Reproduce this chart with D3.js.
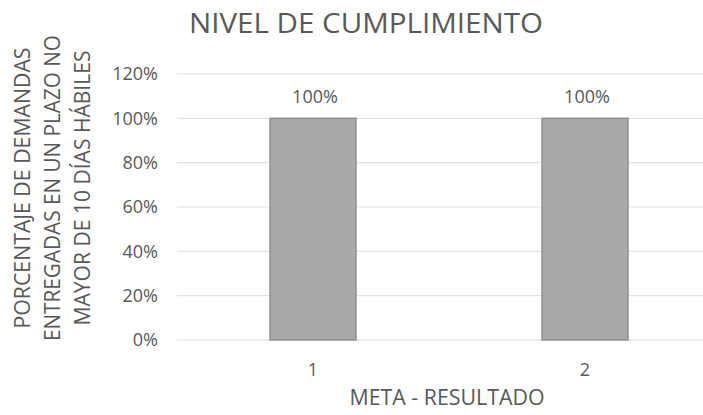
<!DOCTYPE html>
<html>
<head>
<meta charset="utf-8">
<script src="https://cdn.jsdelivr.net/npm/d3@7"></script>
<style>
    body { margin: 0; background: #fff; }
    .text { font-family: 'Open Sans', sans-serif; fill: #595959; }
</style>
</head>
<body>
<div id="chart"></div>
<script>
'use strict';

// Data
const categories = ['1', '2'];
const values = [1.0, 1.0];
const yTicks = [0, 0.2, 0.4, 0.6, 0.8, 1.0, 1.2];
const chartTitle = 'NIVEL DE CUMPLIMIENTO';
const xTitle = 'META - RESULTADO';
const yTitleLines = ['PORCENTAJE DE DEMANDAS', 'ENTREGADAS EN UN PLAZO NO', 'MAYOR DE 10 DÍAS HÁBILES'];

/*
Bars
 */
class Bars {

    // Configs
    svgW = 703;
    svgH = 415;
    plotL = 177;
    plotR = 721;
    plotTop = 74;
    plotBottom = 340;

    // Tools
    xScale = d3.scaleBand()
        .range([this.plotL, this.plotR])
        .paddingInner(0.684)
        .paddingOuter(0.342);
    yScale = d3.scaleLinear()
        .range([this.plotBottom, this.plotTop]);
    pct = d3.format('.0%');

    constructor(_target) {
        this.target = _target;
        this.init();
    }

    init() {
        const vis = this;
        vis.svg = d3.select(`#${vis.target}`)
            .append('svg')
            .attr('width', vis.svgW)
            .attr('height', vis.svgH);

        vis.xScale.domain(categories);
        vis.yScale.domain([0, 1.2]);

        vis.render();
    }

    render() {
        const vis = this;

        // Gridlines
        vis.svg.append('g')
            .selectAll('line')
            .data(yTicks)
            .join('line')
            .attr('x1', vis.plotL)
            .attr('x2', vis.svgW)
            .attr('y1', d => vis.yScale(d))
            .attr('y2', d => vis.yScale(d))
            .attr('stroke', '#e2e2e2')
            .attr('stroke-width', 1.2);

        // Tick labels
        vis.svg.append('g')
            .selectAll('text')
            .data(yTicks)
            .join('text')
            .attr('class', 'text')
            .attr('x', 158)
            .attr('y', d => vis.yScale(d))
            .attr('dy', '0.36em')
            .attr('text-anchor', 'end')
            .style('font-size', '18px')
            .text(d => vis.pct(d));

        // Bars
        vis.svg.append('g')
            .selectAll('rect')
            .data(values)
            .join('rect')
            .attr('x', (d, i) => vis.xScale(categories[i]))
            .attr('y', d => vis.yScale(d))
            .attr('width', vis.xScale.bandwidth())
            .attr('height', d => vis.yScale(0) - vis.yScale(d))
            .attr('fill', '#a9a9a9')
            .attr('stroke', '#909090')
            .attr('stroke-width', 1.5);

        // Value labels
        vis.svg.append('g')
            .selectAll('text')
            .data(values)
            .join('text')
            .attr('class', 'text')
            .attr('x', (d, i) => vis.xScale(categories[i]) + vis.xScale.bandwidth() / 2 + 2)
            .attr('y', d => vis.yScale(d) - 22)
            .attr('dy', '0.36em')
            .attr('text-anchor', 'middle')
            .style('font-size', '18px')
            .text(d => vis.pct(d));

        // Category labels
        vis.svg.append('g')
            .selectAll('text')
            .data(categories)
            .join('text')
            .attr('class', 'text')
            .attr('x', d => vis.xScale(d) + vis.xScale.bandwidth() / 2)
            .attr('y', 370)
            .attr('dy', '0.36em')
            .attr('text-anchor', 'middle')
            .style('font-size', '18px')
            .text(d => d);

        // Titles
        vis.svg.append('text')
            .attr('class', 'text')
            .attr('x', 366)
            .attr('y', 33)
            .attr('text-anchor', 'middle')
            .attr('textLength', 354)
            .attr('lengthAdjust', 'spacingAndGlyphs')
            .style('font-size', '28px')
            .text(chartTitle);

        vis.svg.append('text')
            .attr('class', 'text')
            .attr('x', 447)
            .attr('y', 405)
            .attr('text-anchor', 'middle')
            .attr('textLength', 195)
            .attr('lengthAdjust', 'spacingAndGlyphs')
            .style('font-size', '21px')
            .text(xTitle);

        const yLens = [281, 306, 275];
        const yXs = [30, 60, 90];
        vis.svg.append('g')
            .selectAll('text')
            .data(yTitleLines)
            .join('text')
            .attr('class', 'text')
            .attr('transform', (d, i) => `translate(${yXs[i]}, 188) rotate(-90)`)
            .attr('text-anchor', 'middle')
            .attr('textLength', (d, i) => yLens[i])
            .attr('lengthAdjust', 'spacingAndGlyphs')
            .style('font-size', '21px')
            .text(d => d);
    }
}

new Bars('chart');
</script>
</body>
</html>
